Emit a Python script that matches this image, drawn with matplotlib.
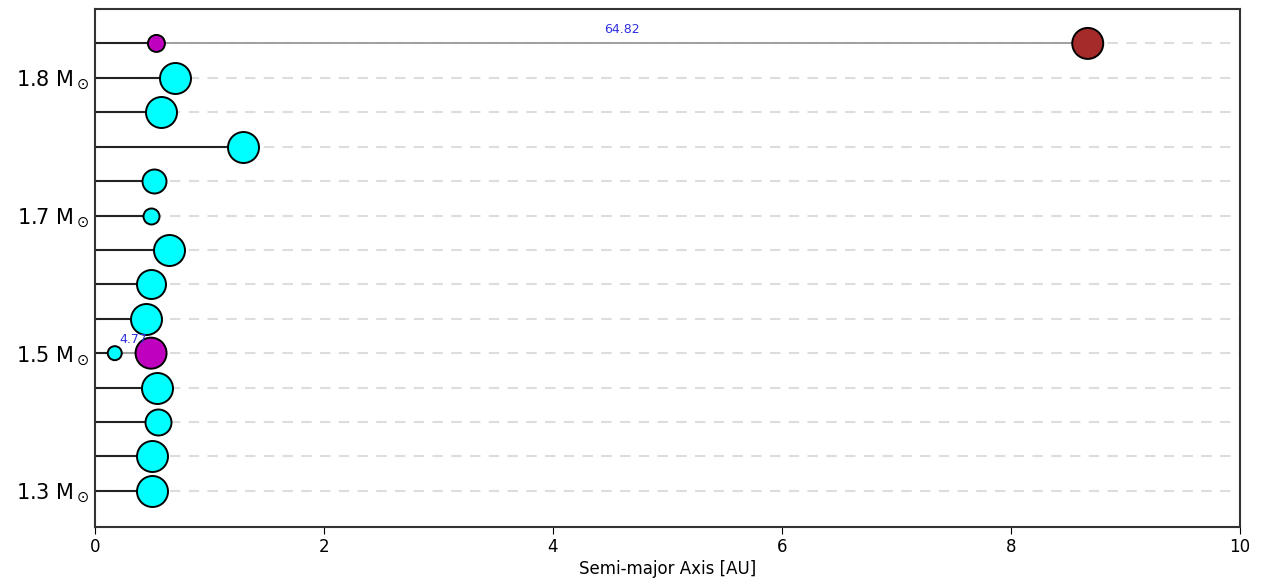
import numpy as np
import matplotlib.pyplot as plt

# Planet semi-major axes [AU] per system, top row first
semi_major = [
    [0.537, 8.67],
    [0.70],
    [0.58],
    [1.29],
    [0.52],
    [0.49],
    [0.65],
    [0.49],
    [0.45],
    [0.173, 0.49],
    [0.54],
    [0.55],
    [0.50],
    [0.50],
]
# relative planet size
planet_size = [
    [17, 31],
    [31],
    [31],
    [31],
    [24],
    [16],
    [31],
    [29],
    [31],
    [14, 31],
    [31],
    [26],
    [31],
    [31],
]
planet_color = [
    ['#bf00bf', '#a52a2a'],
    ['cyan'], ['cyan'], ['cyan'], ['cyan'], ['cyan'], ['cyan'], ['cyan'], ['cyan'],
    ['cyan', '#bf00bf'],
    ['cyan'], ['cyan'], ['cyan'], ['cyan'],
]
# period ratios of adjacent pairs
period_ratio = {0: '64.82', 9: '4.77'}

mass_rows = [1, 5, 9, 13]
mass_labels = ['1.8', '1.7', '1.5', '1.3']

fig = plt.figure(figsize=(12.66, 5.81), dpi=100)
ax = fig.add_axes([0.075, 0.093, 0.9045, 0.8915])

n = len(semi_major)
for i in range(n):
    y = n - 1 - i
    a = semi_major[i]
    ax.plot([0, 10], [y, y], ls=(0, (5, 4)), color='#dddddd', lw=1.5, zorder=1)
    ax.plot([0, a[0]], [y, y], color='#222222', lw=1.5, zorder=2)
    if len(a) > 1:
        ax.plot(a, [y] * len(a), color='#999999', lw=1.3, zorder=2)
    ax.scatter(a, [y] * len(a), s=(np.array(planet_size[i]) * 0.72) ** 2,
               c=planet_color[i], edgecolors='black', linewidths=1.4, zorder=3)
    if i in period_ratio:
        ax.annotate(period_ratio[i], ((a[0] + a[1]) / 2, y), xytext=(0, 5),
                    textcoords='offset points', ha='center', va='bottom',
                    color='#3030e0', fontsize=9, zorder=4)

ax.set_xlim(0, 10)
ax.set_ylim(-1.05, 14.0)
ax.set_yticks([n - 1 - r for r in mass_rows])
ax.set_yticklabels([m + r' M$_\odot$' for m in mass_labels], fontsize=15)
ax.tick_params(axis='y', length=0, pad=4)
ax.tick_params(axis='x', labelsize=12, length=5, pad=3)
ax.set_xlabel('Semi-major Axis [AU]', fontsize=12, labelpad=3)
for sp in ax.spines.values():
    sp.set_color('#333333')
    sp.set_linewidth(1.5)

fig.savefig('out.png', dpi=100)
